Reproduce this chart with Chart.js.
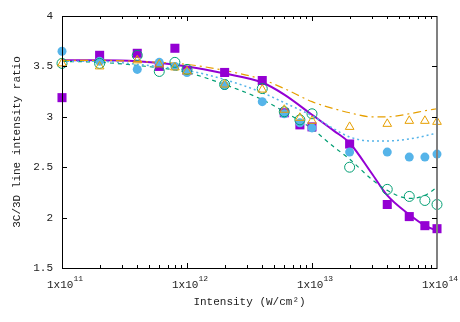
<!DOCTYPE html>
<html>
<head>
<meta charset="utf-8">
<script src="https://cdn.jsdelivr.net/npm/chart.js@4.4.0/dist/chart.umd.min.js"></script>
<style>
  html, body { margin: 0; padding: 0; background: #fff; }
  #wrap { width: 460px; height: 322px; }
</style>
</head>
<body>
<div id="wrap"><canvas id="myChart" width="460" height="322"></canvas></div>
<script>
// measured intensities (W/cm2)
const intensities = [1e11, 2e11, 4e11, 6e11, 8e11, 1e12, 2e12, 4e12, 6e12, 8e12, 1e13, 2e13, 4e13, 6e13, 8e13, 1e14];
const purplePts = [3.19, 3.61, 3.63, 3.50, 3.68, 3.46, 3.44, 3.36, 3.04, 2.92, 2.90, 2.73, 2.13, 2.01, 1.92, 1.89];
const bluePts   = [3.65, 3.55, 3.47, 3.54, 3.50, 3.44, 3.31, 3.15, 3.03, 2.94, 2.89, 2.65, 2.65, 2.60, 2.60, 2.63];
const greenPts  = [3.53, 3.53, 3.61, 3.45, 3.54, 3.47, 3.32, 3.28, 3.05, 2.97, 3.03, 2.50, 2.28, 2.21, 2.17, 2.13];
const orangePts = [3.53, 3.50, 3.56, 3.52, 3.49, 3.45, 3.32, 3.27, 3.07, 2.99, 2.96, 2.90, 2.93, 2.96, 2.96, 2.95];

// fitted curves
const fitX = [1e11, 2e11, 4e11, 1e12, 2e12, 4e12, 6e12, 1e13, 1.5e13, 2e13, 3e13, 4e13, 6e13, 8e13, 1e14];
const purpleFit = [3.56, 3.56, 3.55, 3.50, 3.43, 3.34, 3.22, 3.02, 2.86, 2.74, 2.44, 2.22, 2.03, 1.92, 1.87];
const orangeFit = [3.56, 3.56, 3.55, 3.52, 3.46, 3.37, 3.28, 3.15, 3.08, 3.04, 3.00, 3.00, 3.03, 3.06, 3.08];
const blueFit   = [3.55, 3.55, 3.52, 3.46, 3.37, 3.24, 3.14, 3.01, 2.88, 2.80, 2.76, 2.76, 2.78, 2.81, 2.84];
const greenFit  = [3.55, 3.54, 3.51, 3.44, 3.32, 3.17, 3.05, 2.88, 2.70, 2.58, 2.38, 2.27, 2.19, 2.22, 2.30];

const yTicks = [1.5, 2, 2.5, 3, 3.5, 4];
const xDecades = [11, 12, 13, 14];

const MONO = '"Liberation Mono", "DejaVu Sans Mono", monospace';
const PURPLE = '#9400d3', GREEN = '#009e73', BLUE = '#56b4e9', ORANGE = '#e69f00';

function pts(xs, ys) { return xs.map((x, i) => ({ x: x, y: ys[i] })); }

function fitSet(ys, color, dash, width) {
  return {
    data: pts(fitX, ys), showLine: true, pointRadius: 0, borderColor: color,
    borderWidth: width, borderDash: dash, cubicInterpolationMode: 'monotone', order: 5, fill: false
  };
}

// gnuplot-like box with inward ticks and superscript tick labels
const frame = {
  id: 'frame',
  afterDraw(c) {
    const ctx = c.ctx, a = c.chartArea, xs = c.scales.x, ys = c.scales.y;
    ctx.save();
    ctx.strokeStyle = '#000';
    ctx.lineWidth = 1;
    ctx.beginPath();
    ctx.moveTo(a.right, a.top + 0.5); ctx.lineTo(a.left + 0.5, a.top + 0.5);
    ctx.lineTo(a.left + 0.5, a.bottom + 0.5); ctx.lineTo(a.right, a.bottom + 0.5);
    ctx.stroke();
    ctx.strokeStyle = '#808080';
    ctx.lineWidth = 2;
    ctx.beginPath();
    ctx.moveTo(a.right, a.top); ctx.lineTo(a.right, a.bottom + 1);
    ctx.stroke();

    ctx.strokeStyle = '#000';
    ctx.lineWidth = 1;
    ctx.beginPath();
    for (let d = 11; d <= 13; d++) {
      for (let m = 1; m <= 9; m++) {
        const px = Math.round(xs.getPixelForValue(m * Math.pow(10, d))) + 0.5;
        const len = m === 1 ? 5 : 3;
        ctx.moveTo(px, a.bottom); ctx.lineTo(px, a.bottom - len);
        ctx.moveTo(px, a.top); ctx.lineTo(px, a.top + len);
      }
    }
    yTicks.forEach(v => {
      const py = Math.round(ys.getPixelForValue(v)) + 0.5;
      ctx.moveTo(a.left, py); ctx.lineTo(a.left + 5, py);
      ctx.moveTo(a.right, py); ctx.lineTo(a.right - 5, py);
    });
    ctx.stroke();

    ctx.fillStyle = '#222';
    ctx.textBaseline = 'alphabetic';
    ctx.textAlign = 'left';
    xDecades.forEach(d => {
      const px = xs.getPixelForValue(Math.pow(10, d));
      ctx.font = '11px ' + MONO;
      const base = '1x10';
      const wb = ctx.measureText(base).width;
      ctx.font = '8px ' + MONO;
      const we = ctx.measureText(String(d)).width;
      const x0 = px - (wb + we) / 2 + 3;
      ctx.font = '11px ' + MONO;
      ctx.fillText(base, x0, 288);
      ctx.font = '8px ' + MONO;
      ctx.fillText(String(d), x0 + wb, 281);
    });
    ctx.restore();
  }
};

const chart = new Chart(document.getElementById('myChart'), {
  type: 'scatter',
  data: {
    datasets: [
      fitSet(orangeFit, ORANGE, [8, 4, 2, 4], 1.2),
      fitSet(blueFit, BLUE, [2, 3], 1.5),
      fitSet(greenFit, GREEN, [4, 4], 1.2),
      fitSet(purpleFit, PURPLE, [], 2),
      { data: pts(intensities, orangePts), pointStyle: 'triangle', radius: 5, borderColor: ORANGE, backgroundColor: 'rgba(0,0,0,0)', borderWidth: 1, order: 1 },
      { data: pts(intensities, greenPts), pointStyle: 'circle', radius: 5, borderColor: GREEN, backgroundColor: 'rgba(0,0,0,0)', borderWidth: 1, order: 2 },
      { data: pts(intensities, bluePts), pointStyle: 'circle', radius: 4.5, borderColor: BLUE, backgroundColor: BLUE, borderWidth: 0, order: 3 },
      { data: pts(intensities, purplePts), pointStyle: 'rect', radius: 6.4, borderColor: PURPLE, backgroundColor: PURPLE, borderWidth: 0, order: 4 }
    ]
  },
  options: {
    responsive: false,
    animation: false,
    clip: false,
    layout: { padding: { top: 16, right: 23, left: 0, bottom: 0 } },
    plugins: { legend: { display: false }, tooltip: { enabled: false } },
    scales: {
      x: {
        type: 'logarithmic', min: 1e11, max: 1e14,
        grid: { display: false, drawTicks: false },
        border: { display: false },
        ticks: { display: false },
        title: { display: true, text: 'Intensity (W/cm\u00b2)', color: '#222', font: { family: MONO, size: 11 }, padding: { top: 4, bottom: 13 } },
        afterFit(s) { s.height = 54; }
      },
      y: {
        min: 1.5, max: 4,
        afterBuildTicks(s) { s.ticks = yTicks.map(v => ({ value: v })); },
        grid: { display: false, drawTicks: false },
        border: { display: false },
        ticks: { color: '#222', padding: 9, font: { family: MONO, size: 11 }, callback: v => String(v) },
        title: { display: true, text: '3C/3D line intensity ratio', color: '#222', font: { family: MONO, size: 11 }, padding: { top: 10, bottom: 0 } },
        afterFit(s) { s.width = 62; }
      }
    }
  },
  plugins: [frame]
});
</script>
</body>
</html>
